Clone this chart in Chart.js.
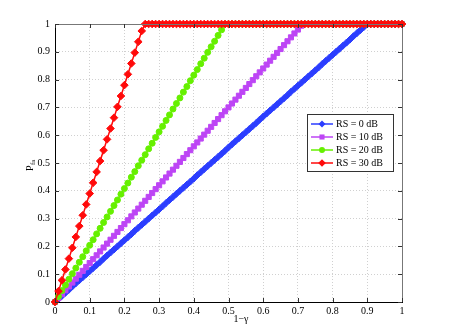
<!DOCTYPE html>
<html lang="en">
<head>
<meta charset="UTF-8">
<script src="https://cdn.jsdelivr.net/npm/chart.js"></script>
<style>
  body { margin: 0; background: #fff; }
  canvas { display: block; }
</style>
</head>
<body>
<canvas id="myChart" width="449" height="333"></canvas>
<script>
// x values (1 - gamma)
const xVals = [
  0, 0.01, 0.02, 0.03, 0.04, 0.05, 0.06, 0.07, 0.08, 0.09,
  0.1, 0.11, 0.12, 0.13, 0.14, 0.15, 0.16, 0.17, 0.18, 0.19,
  0.2, 0.21, 0.22, 0.23, 0.24, 0.25, 0.26, 0.27, 0.28, 0.29,
  0.3, 0.31, 0.32, 0.33, 0.34, 0.35, 0.36, 0.37, 0.38, 0.39,
  0.4, 0.41, 0.42, 0.43, 0.44, 0.45, 0.46, 0.47, 0.48, 0.49,
  0.5, 0.51, 0.52, 0.53, 0.54, 0.55, 0.56, 0.57, 0.58, 0.59,
  0.6, 0.61, 0.62, 0.63, 0.64, 0.65, 0.66, 0.67, 0.68, 0.69,
  0.7, 0.71, 0.72, 0.73, 0.74, 0.75, 0.76, 0.77, 0.78, 0.79,
  0.8, 0.81, 0.82, 0.83, 0.84, 0.85, 0.86, 0.87, 0.88, 0.89,
  0.9, 0.91, 0.92, 0.93, 0.94, 0.95, 0.96, 0.97, 0.98, 0.99,
  1
]

// P_fa for RS = 0 dB
const rs0 = [
  0, 0.011, 0.022, 0.033, 0.044, 0.056, 0.067, 0.078, 0.089, 0.1,
  0.111, 0.122, 0.133, 0.144, 0.156, 0.167, 0.178, 0.189, 0.2, 0.211,
  0.222, 0.233, 0.244, 0.256, 0.267, 0.278, 0.289, 0.3, 0.311, 0.322,
  0.333, 0.344, 0.356, 0.367, 0.378, 0.389, 0.4, 0.411, 0.422, 0.433,
  0.444, 0.456, 0.467, 0.478, 0.489, 0.5, 0.511, 0.522, 0.533, 0.544,
  0.556, 0.567, 0.578, 0.589, 0.6, 0.611, 0.622, 0.633, 0.644, 0.656,
  0.667, 0.678, 0.689, 0.7, 0.711, 0.722, 0.733, 0.744, 0.756, 0.767,
  0.778, 0.789, 0.8, 0.811, 0.822, 0.833, 0.844, 0.856, 0.867, 0.878,
  0.889, 0.9, 0.911, 0.922, 0.933, 0.944, 0.956, 0.967, 0.978, 0.989,
  1, 1, 1, 1, 1, 1, 1, 1, 1, 1,
  1
]

// RS = 10 dB
const rs10 = [
  0, 0.014, 0.028, 0.042, 0.056, 0.07, 0.084, 0.098, 0.112, 0.126,
  0.14, 0.154, 0.168, 0.182, 0.196, 0.21, 0.224, 0.238, 0.252, 0.266,
  0.28, 0.294, 0.308, 0.322, 0.336, 0.35, 0.364, 0.378, 0.392, 0.406,
  0.42, 0.434, 0.448, 0.462, 0.476, 0.49, 0.504, 0.518, 0.532, 0.546,
  0.56, 0.574, 0.588, 0.602, 0.616, 0.63, 0.644, 0.658, 0.672, 0.686,
  0.7, 0.714, 0.728, 0.742, 0.756, 0.77, 0.784, 0.798, 0.812, 0.826,
  0.84, 0.854, 0.868, 0.882, 0.896, 0.91, 0.924, 0.938, 0.952, 0.966,
  0.98, 0.994, 1, 1, 1, 1, 1, 1, 1, 1,
  1, 1, 1, 1, 1, 1, 1, 1, 1, 1,
  1, 1, 1, 1, 1, 1, 1, 1, 1, 1,
  1
]

// RS = 20 dB
const rs20 = [
  0, 0.02, 0.041, 0.061, 0.082, 0.102, 0.122, 0.143, 0.163, 0.184,
  0.204, 0.224, 0.245, 0.265, 0.286, 0.306, 0.326, 0.347, 0.367, 0.388,
  0.408, 0.428, 0.449, 0.469, 0.49, 0.51, 0.53, 0.551, 0.571, 0.592,
  0.612, 0.632, 0.653, 0.673, 0.694, 0.714, 0.734, 0.755, 0.775, 0.796,
  0.816, 0.836, 0.857, 0.877, 0.898, 0.918, 0.938, 0.959, 0.979, 1,
  1, 1, 1, 1, 1, 1, 1, 1, 1, 1,
  1, 1, 1, 1, 1, 1, 1, 1, 1, 1,
  1, 1, 1, 1, 1, 1, 1, 1, 1, 1,
  1, 1, 1, 1, 1, 1, 1, 1, 1, 1,
  1, 1, 1, 1, 1, 1, 1, 1, 1, 1,
  1
]

// RS = 30 dB
const rs30 = [
  0, 0.039, 0.078, 0.117, 0.156, 0.195, 0.234, 0.273, 0.312, 0.351,
  0.39, 0.429, 0.468, 0.507, 0.546, 0.585, 0.624, 0.663, 0.702, 0.741,
  0.78, 0.819, 0.858, 0.897, 0.936, 0.975, 1, 1, 1, 1,
  1, 1, 1, 1, 1, 1, 1, 1, 1, 1,
  1, 1, 1, 1, 1, 1, 1, 1, 1, 1,
  1, 1, 1, 1, 1, 1, 1, 1, 1, 1,
  1, 1, 1, 1, 1, 1, 1, 1, 1, 1,
  1, 1, 1, 1, 1, 1, 1, 1, 1, 1,
  1, 1, 1, 1, 1, 1, 1, 1, 1, 1,
  1, 1, 1, 1, 1, 1, 1, 1, 1, 1,
  1
]

const seriesNames = ['RS = 0 dB', 'RS = 10 dB', 'RS = 20 dB', 'RS = 30 dB']
const tickVals = [0, 0.1, 0.2, 0.3, 0.4, 0.5, 0.6, 0.7, 0.8, 0.9, 1]

const serif = '"Liberation Serif", "DejaVu Serif", serif'

const styles = [
  { color: '#2b3dff', point: 'rectRot', r: 3.5 },
  { color: '#bd45f5', point: 'rect', r: 3.6 },
  { color: '#66f000', point: 'circle', r: 3 },
  { color: '#ff0a0a', point: 'rectRot', r: 3.8 }
]
const allSeries = [rs0, rs10, rs20, rs30]

function toPoints(ys) {
  return xVals.map((x, i) => ({ x: x, y: ys[i] }))
}

const datasets = allSeries.map((ys, i) => ({
  label: seriesNames[i],
  data: toPoints(ys),
  borderColor: styles[i].color,
  backgroundColor: styles[i].color,
  pointBackgroundColor: styles[i].color,
  pointBorderColor: styles[i].color,
  pointStyle: styles[i].point,
  pointRadius: styles[i].r,
  pointBorderWidth: 1,
  borderWidth: 1.5,
  order: 3 - i,
  clip: false
}))

function drawMarker(ctx, style, x, y, r) {
  ctx.beginPath()
  if (style === 'circle') {
    ctx.arc(x, y, r, 0, Math.PI * 2)
  } else if (style === 'rect') {
    const s = Math.SQRT1_2 * r
    ctx.rect(x - s, y - s, 2 * s, 2 * s)
  } else {
    ctx.moveTo(x, y - r)
    ctx.lineTo(x + r, y)
    ctx.lineTo(x, y + r)
    ctx.lineTo(x - r, y)
    ctx.closePath()
  }
  ctx.fill()
}

const extras = {
  id: 'extras',
  afterDraw(chart) {
    const ctx = chart.ctx
    const a = chart.chartArea
    const xs = chart.scales.x
    const ys = chart.scales.y
    ctx.save()

    // box top/right
    ctx.strokeStyle = '#777'
    ctx.lineWidth = 1
    ctx.beginPath()
    ctx.moveTo(a.left, a.top + 0.5)
    ctx.lineTo(a.right + 0.5, a.top + 0.5)
    ctx.lineTo(a.right + 0.5, a.bottom)
    ctx.stroke()

    // inward ticks
    ctx.strokeStyle = '#333'
    ctx.beginPath()
    tickVals.forEach(v => {
      const px = Math.round(xs.getPixelForValue(v)) + 0.5
      const py = Math.round(ys.getPixelForValue(v)) + 0.5
      ctx.moveTo(px, a.bottom); ctx.lineTo(px, a.bottom - 4)
      ctx.moveTo(px, a.top); ctx.lineTo(px, a.top + 4)
      ctx.moveTo(a.left, py); ctx.lineTo(a.left + 4, py)
      ctx.moveTo(a.right, py); ctx.lineTo(a.right - 4, py)
    })
    ctx.stroke()

    // legend
    const lx = 307.5, ly = 114.5, lw = 86, lh = 57
    ctx.fillStyle = '#fff'
    ctx.fillRect(lx, ly, lw, lh)
    ctx.strokeStyle = '#333'
    ctx.strokeRect(lx, ly, lw, lh)
    const rowsY = [124, 137, 150, 163]
    ctx.font = '10px ' + serif
    ctx.textBaseline = 'middle'
    ctx.textAlign = 'left'
    seriesNames.forEach((name, i) => {
      const y = rowsY[i]
      ctx.strokeStyle = styles[i].color
      ctx.fillStyle = styles[i].color
      ctx.lineWidth = 1.5
      ctx.beginPath()
      ctx.moveTo(311, y)
      ctx.lineTo(333, y)
      ctx.stroke()
      drawMarker(ctx, styles[i].point, 322, y, styles[i].r)
      ctx.fillStyle = '#000'
      ctx.fillText(name, 336, y + 0.5)
    })

    // x title
    ctx.fillStyle = '#000'
    ctx.textAlign = 'center'
    ctx.textBaseline = 'alphabetic'
    ctx.font = '10px ' + serif
    ctx.fillText('1\u2212\u03b3', 241, 322)

    // y title P_fa
    ctx.translate(32.5, 165)
    ctx.rotate(-Math.PI / 2)
    ctx.textAlign = 'left'
    ctx.font = '10px ' + serif
    ctx.fillText('P', -6, 0)
    ctx.font = '7px ' + serif
    ctx.fillText('fa', 0, 2)
    ctx.restore()
  }
}

const tickFont = { family: serif, size: 10 }

new Chart(document.getElementById('myChart'), {
  type: 'line',
  data: { datasets: datasets },
  options: {
    responsive: false,
    animation: false,
    events: [],
    layout: { padding: { top: 24, right: 47, left: 0, bottom: 0 } },
    plugins: {
      legend: { display: false },
      tooltip: { enabled: false }
    },
    scales: {
      x: {
        type: 'linear',
        min: 0,
        max: 1,
        afterFit: s => { s.height = 31 },
        afterBuildTicks: s => { s.ticks = tickVals.map(v => ({ value: v })) },
        ticks: {
          color: '#000',
          font: tickFont,
          padding: 3,
          maxRotation: 0,
          callback: v => String(Math.round(v * 10) / 10)
        },
        grid: { color: '#d0d0d0', drawTicks: false, lineWidth: 1 },
        border: { color: '#000', width: 1, dash: [1, 2] }
      },
      y: {
        type: 'linear',
        min: 0,
        max: 1,
        afterFit: s => { s.width = 55 },
        afterBuildTicks: s => { s.ticks = tickVals.map(v => ({ value: v })) },
        ticks: {
          color: '#000',
          font: tickFont,
          padding: 5,
          callback: v => String(Math.round(v * 10) / 10)
        },
        grid: { color: '#d0d0d0', drawTicks: false, lineWidth: 1 },
        border: { color: '#000', width: 1, dash: [1, 2] }
      }
    }
  },
  plugins: [extras]
})
</script>
</body>
</html>
